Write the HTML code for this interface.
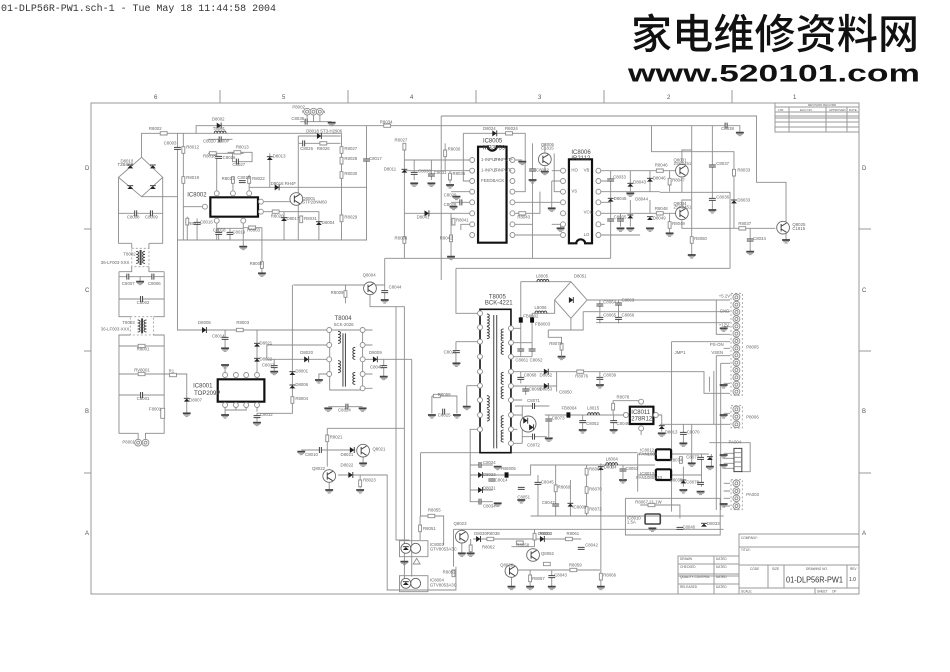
<!DOCTYPE html>
<html><head><meta charset="utf-8">
<style>
html,body{margin:0;padding:0;background:#fff;width:950px;height:672px;overflow:hidden}
svg{display:block}
.w{fill:none;stroke:#8c8c8c;stroke-width:.9px;vector-effect:non-scaling-stroke}
.wf{fill:#fff;stroke:#8c8c8c;stroke-width:.9px;vector-effect:non-scaling-stroke}
.c{fill:none;stroke:#444;stroke-width:1px;vector-effect:non-scaling-stroke}
.cf{fill:#fff;stroke:#666;stroke-width:.9px;vector-effect:non-scaling-stroke}
.k{fill:none;stroke:#111;stroke-width:2.2px;vector-effect:non-scaling-stroke}
.d{fill:none;stroke:#999;stroke-width:.8px;stroke-dasharray:2 2;vector-effect:non-scaling-stroke}
.t{font-family:"Liberation Sans",sans-serif;font-size:13px;fill:#666;transform-box:fill-box;transform-origin:0 0;transform:scaleX(.678)}
.tb{font-size:18px;fill:#444}
.f{fill:none;stroke:#9a9a9a;stroke-width:1px}
.s{font-family:"Liberation Sans",sans-serif;fill:#555}
</style></head><body>
<svg width="950" height="672" viewBox="0 0 950 672" xmlns="http://www.w3.org/2000/svg">
<defs>
<g id="cv"><rect x="-7" y="-3" width="14" height="6" fill="#fff"/><path class="c" d="M-7,-3H7M-7,3H7"/></g>
<g id="ch"><rect x="-2" y="-9" width="4" height="18" fill="#fff"/><path class="c" d="M-2,-9V9M2,-9V9"/></g>
<g id="rv"><rect class="wf" x="-3" y="-10" width="6" height="20"/></g>
<g id="rh"><rect class="wf" x="-7" y="-5" width="14" height="10"/></g>
<g id="dv"><polygon points="-6,5 6,5 0,-4" fill="#222"/><path class="c" d="M-6,-5H6"/></g>
<g id="dh"><polygon points="-4,-9 -4,9 5,0" fill="#222"/><path class="c" d="M5,-9V9"/></g>
<g id="gd"><path class="c" d="M-8,0H8" style="stroke-width:1.8px"/><path class="w" d="M-6,5H6M-3,9H3"/></g>
<g id="pn"><ellipse class="wf" rx="5" ry="7.5"/></g>
<g id="pc"><ellipse class="wf" rx="7" ry="10"/><ellipse class="w" rx="3" ry="4.5"/></g>
<g id="qt"><ellipse class="cf" rx="13" ry="19"/><path class="c" d="M-4,-11V11M-4,-4L7,-14M-4,4L7,14"/></g>
<g id="fb"><rect x="-4" y="-8" width="8" height="16" fill="#111"/></g>
<g id="lh"><path class="c" d="M-12,0a3,7 0 0 1 6,0a3,7 0 0 1 6,0a3,7 0 0 1 6,0a3,7 0 0 1 6,0"/></g>
<g id="lv"><path class="c" d="M0,-18a5,4.5 0 0 1 0,9a5,4.5 0 0 1 0,9a5,4.5 0 0 1 0,9a5,4.5 0 0 1 0,9"/></g>
<g id="lvl"><path class="c" d="M0,-18a5,4.5 0 0 0 0,9a5,4.5 0 0 0 0,9a5,4.5 0 0 0 0,9a5,4.5 0 0 0 0,9"/></g>
</defs>

<!-- header -->
<text x="1" y="11" font-family="Liberation Mono, monospace" font-size="10" fill="#333" textLength="275" lengthAdjust="spacingAndGlyphs">01-DLP56R-PW1.sch-1 - Tue May 18 11:44:58 2004</text>
<text x="631" y="48.5" font-family="Noto Sans CJK SC, Noto Serif CJK SC, sans-serif" font-weight="500" font-size="41" fill="#111" textLength="288" lengthAdjust="spacing">家电维修资料网</text>
<text x="628" y="81.7" font-family="Liberation Sans, sans-serif" font-weight="700" font-size="24" fill="#111" textLength="292" lengthAdjust="spacingAndGlyphs">www.520101.com</text>

<!-- frame -->
<rect class="f" x="91" y="103" width="768" height="491"/>
<path class="f" d="M220,90V103M348,90V103M476,90V103M604,90V103M732,90V103M84,229H91M84,351H91M84,473H91M859,229H871M859,351H871M859,473H871"/>
<g class="s" font-size="6">
<text x="154" y="99">6</text><text x="282" y="99">5</text><text x="410" y="99">4</text><text x="538" y="99">3</text><text x="667" y="99">2</text><text x="793" y="99">1</text>
<text x="862" y="170">D</text><text x="862" y="292">C</text><text x="862" y="413">B</text><text x="862" y="535">A</text>
<text x="85" y="170">D</text><text x="85" y="292">C</text><text x="85" y="413">B</text><text x="85" y="535">A</text>
</g>
<text class="s" x="302" y="113" font-size="3.5">RTN RTN RTN</text>
<!-- revision table -->
<rect class="f" x="775" y="103" width="84" height="29"/>
<path class="f" d="M775,107H859M775,112H859M775,116H859M775,118H859M775,122H859M775,127H859M789,107V132M826,107V132M847,107V132"/>
<g class="s" font-size="3"><text x="808" y="106">REVISION RECORD</text><text x="778" y="111">LTR</text><text x="800" y="111">ECO NO.</text><text x="829" y="111">APPROVED</text><text x="849" y="111">DATE</text></g>
<!-- title block -->
<rect class="f" x="739" y="534" width="120" height="60"/>
<path class="f" d="M739,547H859M739,565H859M739,588H859M768,565V588M784,565V588M847,565V588M815,588V594"/>
<rect class="f" x="678" y="556" width="61" height="38"/>
<path class="f" d="M678,564H739M678,574H739M678,576H739M678,584H739M714,556V594"/>
<g class="s" font-size="3.2">
<text x="741" y="539">COMPANY:</text><text x="741" y="551">TITLE:</text>
<text x="750" y="570">CODE</text><text x="772" y="570">SIZE</text><text x="806" y="570">DRAWING NO.</text><text x="850" y="570">REV</text>
<text x="741" y="592.5">SCALE:</text><text x="817" y="592.5">SHEET</text><text x="832" y="592.5">OF</text>
<text x="680" y="560">DRAWN</text><text x="716" y="560">DATED</text>
<text x="680" y="568">CHECKED</text><text x="716" y="568">DATED</text>
<text x="680" y="578">QUALITY CONTROL</text><text x="716" y="578">DATED</text>
<text x="680" y="588">RELEASED</text><text x="716" y="588">DATED</text>
</g>
<text x="786" y="582.7" font-family="Liberation Sans, sans-serif" font-size="8.5" fill="#333" textLength="57" lengthAdjust="spacingAndGlyphs">01-DLP56R-PW1</text>
<text x="849" y="581" font-family="Liberation Sans, sans-serif" font-size="5" fill="#333">1.0</text>

<!-- schematic (stretched coords) -->
<g transform="translate(90,100) scale(0.4912,0.33333)">
<!-- wires -->
<path class="w" d="M105,172V100H178M178,100V420H563V77M178,100H512M216,100V77H1143M512,100V420M424,108H510M424,130H510M424,108V420M190,100V420M240,160H313M258,160V271M291,230V271M324,225V271M280,157H330V185H290V157M366,160V262M324,262H563M354,305H420M354,335H466V420M395,335V420M239,320H190M258,371V420M312,371V440M312,383H350V520M198,350V420M218,355V420M240,118H290M258,385H312M262,385V420M285,385V420"/>
<path class="w" d="M105,290H178M58,232V430H85M148,232V430H120M58,340H148M85,430V445M120,430V445M85,500V515H59M120,500V515H151M59,515V650H82M151,515V650H129M59,530H151M59,597H151M102,530V545M82,705H59V1000H98V1018M129,705H151V1000H113V1018M59,738H151M59,822H151M59,885H151M151,822H197V940M148,925V955"/>
<path class="w" d="M178,420V690H487M340,690V825M275,690V745M360,735H487M360,735V778H487M375,778V815M412,555V940H340V965M487,822H466V840M275,825V800M275,915V930H318V915M297,915V930M275,930V945M340,915V935M555,690H575M555,735H575M555,778H655M598,778V830M555,822H575M555,865H575M485,920H555M414,555H600V475M520,555V610M570,545V555M570,585V620H640V1440H650M623,620V1320H650M600,555V600M655,778V1430"/>
<path class="w" d="M430,1050H540M483,985V1100M483,985H640M505,1125H605V1470H745V1400M550,1125V1165M556,1072V1090M487,1148V1170M672,1248H720V1335M672,1248V1320M673,1058V1248M673,1058H1115M740,1288H1290M757,1288V1292M757,1330V1360M780,1317H1000M775,1317V1360M858,1340H905M905,1288V1340M858,1392V1460M862,1410H1038M896,1410V1460M940,1410V1460M1040,1090V1460M740,1400V1288"/>
<path class="w" d="M794,988H774V1205H820M774,1095H820M774,1125H897V1095H1150M774,1170H820M912,1125V1248M948,1095V1248M978,1140V1248M1011,1095V1248M897,1248H1290M1120,1215H1201V1255M1090,1195H1283V1305H1090V1195M1062,1095V1105"/>
<path class="w" d="M715,48H1357V247H1417V365M715,48V540M1143,77H1323V95M1143,77V155H1311V385M1160,277H1303V505M745,505H1303M745,505V640H794M640,130V475M640,180H773M640,212H773M760,100V243H773M760,100H886V275H865M640,340H773M660,180V240M695,180V240M723,130V212M733,212V250M735,275H773M735,307H773M735,340V470M773,373H755V390M600,475H1060M1060,212V475M901,130V475M926,130V157M926,199V215M945,160V275H958M865,307H958M865,340H916V275M865,373H901M865,405H958M865,180H880M940,212H958M940,243H958M940,243V325M940,373H958V385"/>
<path class="w" d="M1040,212H1195M1040,275H1160M1040,340H1195M1040,405H1120M1040,243H1060M1040,307H1060M1040,373H1048M1100,212V275M1140,212V275M1140,300V340M1100,300V380M1080,340V380M1180,212V275M1180,340V400M1225,78V465M1267,78V330M1205,191V150H1225M1205,233V277M1205,319V300H1225M1205,361V385H1225M1225,385H1395M1344,385V455M1417,401V420"/>
<path class="w" d="M745,725H794M745,725V790M767,857H794M767,857V920M696,888H747V940M696,888V940M857,685H877M857,728H900M857,770H900M877,545V770M900,640V770M877,545H979M946,600V640H900M1012,600H1303M1004,635H1303M933,690H1004V635M933,690V712H960V750M979,655V690M1038,600V670M1076,600V670M857,815H1250V880H1303M950,815V875M857,858H950M877,815V850M887,858V885M857,900H880M865,918H935M857,945H880M857,988H870M857,1030H880M880,1010H930M880,918V1030M926,945H1086M1065,945V902H1122M1157,945H1164V995M1160,973H1303M1208,973V1030M1003,945V990M1066,945V990M1122,992V1005"/>
<path class="w" d="M1030,668H1303M1275,600V703H1303M1184,725H1303M1184,725V1235M1275,767H1303M1275,767V1230M1284,790H1303M1284,790V1230M1261,830V875M1270,813V973M1115,1062H1152M1115,1062V1175M1115,1125H1152M1183,1062H1260M1183,1125H1245M1225,973V1090M1245,1062V1160M1265,1062V1100M1208,1100V1160M1261,1028H1344V1115H1327M1290,1060H1311M1290,1075H1311M1290,1090H1311M1290,1105H1311M1290,1150H1303M1290,1173H1303M1290,1195H1303M1290,1218H1303M1290,940H1303M1290,680H1303M1290,745H1303M1290,850H1303"/>

<!-- bridges -->
<path class="w" d="M105,172L148,232L105,290L58,232Z"/>
<use href="#dv" x="82" y="200"/><use href="#dv" x="128" y="200"/><use href="#dv" x="82" y="262"/><use href="#dv" x="128" y="262"/>
<path class="w" d="M979,545L1012,600L979,655L946,600Z"/><use href="#dh" x="979" y="600"/>

<!-- ICs -->
<rect class="k" x="245" y="292" width="97" height="58"/>
<use href="#pn" x="258" y="280"/><use href="#pn" x="291" y="280"/><use href="#pn" x="324" y="280"/>
<use href="#pn" x="258" y="362"/><use href="#pn" x="312" y="362"/><use href="#pn" x="234" y="320"/>
<use href="#pn" x="348" y="305"/><use href="#pn" x="348" y="335"/>
<path class="k" d="M790,140H810A9,12 0 0 0 828,140H848V428H790Z"/>
<path class="k" d="M975,178H1022V430H1008A9,12 0 0 0 990,430H975Z"/>
<rect class="k" x="260" y="838" width="95" height="67"/>
<rect class="k" x="1099" y="920" width="48" height="52"/>
<rect class="k" x="1152" y="1048" width="31" height="32" rx="3"/>
<rect class="k" x="1152" y="1108" width="31" height="32" rx="3"/>
<rect class="c" x="1130" y="1242" width="31" height="30" rx="3" style="stroke-width:1.6px"/>
<rect class="k" x="794" y="628" width="63" height="430" style="stroke-width:1.6px"/>
<rect class="w" x="488" y="690" width="67" height="180"/>
<rect class="d" x="85" y="445" width="35" height="55"/><rect class="d" x="82" y="650" width="47" height="55"/>
<path class="c" d="M102,450V495M104,450V495M105,655V700M107,655V700M822,645V1045M828,645V1045M515,700V860M520,700V860"/>
<use href="#lv" x="94" y="472"/><use href="#lvl" x="112" y="472"/><use href="#lv" x="97" y="678"/><use href="#lvl" x="115" y="678"/>
<use href="#lv" x="505" y="712"/><use href="#lv" x="505" y="800"/><use href="#lvl" x="540" y="760"/><use href="#lvl" x="540" y="835"/>
<use href="#lv" x="808" y="660"/><use href="#lv" x="808" y="698"/><use href="#lv" x="808" y="905"/><use href="#lv" x="808" y="945"/>
<use href="#lvl" x="842" y="705"/><use href="#lvl" x="842" y="745"/><use href="#lvl" x="842" y="835"/><use href="#lvl" x="842" y="878"/><use href="#lvl" x="842" y="965"/><use href="#lvl" x="842" y="1008"/>

<!-- IC pins -->
<g>
<use href="#pn" x="778" y="180"/><use href="#pn" x="778" y="212"/><use href="#pn" x="778" y="243"/><use href="#pn" x="778" y="275"/><use href="#pn" x="778" y="307"/><use href="#pn" x="778" y="340"/><use href="#pn" x="778" y="373"/><use href="#pn" x="778" y="405"/>
<use href="#pn" x="860" y="180"/><use href="#pn" x="860" y="212"/><use href="#pn" x="860" y="243"/><use href="#pn" x="860" y="275"/><use href="#pn" x="860" y="307"/><use href="#pn" x="860" y="340"/><use href="#pn" x="860" y="373"/><use href="#pn" x="860" y="405"/>
<use href="#pn" x="963" y="212"/><use href="#pn" x="963" y="243"/><use href="#pn" x="963" y="275"/><use href="#pn" x="963" y="307"/><use href="#pn" x="963" y="340"/><use href="#pn" x="963" y="373"/><use href="#pn" x="963" y="405"/>
<use href="#pn" x="1035" y="212"/><use href="#pn" x="1035" y="243"/><use href="#pn" x="1035" y="275"/><use href="#pn" x="1035" y="307"/><use href="#pn" x="1035" y="340"/><use href="#pn" x="1035" y="373"/><use href="#pn" x="1035" y="405"/>
<use href="#pn" x="275" y="825"/><use href="#pn" x="297" y="825"/><use href="#pn" x="318" y="825"/><use href="#pn" x="340" y="825"/>
<use href="#pn" x="275" y="915"/><use href="#pn" x="297" y="915"/><use href="#pn" x="318" y="915"/><use href="#pn" x="340" y="915"/>
<use href="#pn" x="487" y="690"/><use href="#pn" x="487" y="735"/><use href="#pn" x="487" y="778"/><use href="#pn" x="487" y="822"/>
<use href="#pn" x="555" y="690"/><use href="#pn" x="555" y="735"/><use href="#pn" x="555" y="778"/><use href="#pn" x="555" y="822"/><use href="#pn" x="555" y="865"/>
<use href="#pn" x="794" y="640"/><use href="#pn" x="794" y="682"/><use href="#pn" x="794" y="725"/><use href="#pn" x="794" y="770"/><use href="#pn" x="794" y="815"/><use href="#pn" x="794" y="857"/><use href="#pn" x="794" y="900"/><use href="#pn" x="794" y="945"/><use href="#pn" x="794" y="988"/>
<use href="#pn" x="857" y="685"/><use href="#pn" x="857" y="728"/><use href="#pn" x="857" y="770"/><use href="#pn" x="857" y="815"/><use href="#pn" x="857" y="858"/><use href="#pn" x="857" y="900"/><use href="#pn" x="857" y="945"/><use href="#pn" x="857" y="988"/><use href="#pn" x="857" y="1030"/>
<use href="#pn" x="1091" y="945"/><use href="#pn" x="1152" y="945"/><use href="#pn" x="1122" y="905"/><use href="#pn" x="1122" y="985"/>
</g>

<!-- connectors -->
<rect class="d" x="1305" y="580" width="23" height="306"/>
<use href="#pc" x="1316" y="592"/><use href="#pc" x="1316" y="614"/><use href="#pc" x="1316" y="636"/><use href="#pc" x="1316" y="657"/><use href="#pc" x="1316" y="679"/><use href="#pc" x="1316" y="701"/><use href="#pc" x="1316" y="723"/><use href="#pc" x="1316" y="745"/><use href="#pc" x="1316" y="766"/><use href="#pc" x="1316" y="788"/><use href="#pc" x="1316" y="810"/><use href="#pc" x="1316" y="832"/><use href="#pc" x="1316" y="854"/><use href="#pc" x="1316" y="875"/>
<rect class="d" x="1305" y="917" width="23" height="67"/>
<use href="#pc" x="1316" y="928"/><use href="#pc" x="1316" y="950"/><use href="#pc" x="1316" y="973"/>
<rect class="c" x="1311" y="1045" width="16" height="70"/>
<path class="w" d="M1311,1058H1327M1311,1072H1327M1311,1086H1327M1311,1100H1327"/>
<rect class="d" x="1305" y="1139" width="23" height="90"/>
<use href="#pc" x="1316" y="1150"/><use href="#pc" x="1316" y="1173"/><use href="#pc" x="1316" y="1195"/><use href="#pc" x="1316" y="1218"/>
<path class="w" d="M442,44V65M455,44V65M468,44V65M428,65H492"/>
<use href="#pc" x="442" y="35"/><use href="#pc" x="455" y="35"/><use href="#pc" x="468" y="35"/>
<path class="w" d="M98,1018V1020M113,1018V1020"/>
<use href="#pc" x="98" y="1028"/><use href="#pc" x="113" y="1028"/>

<!-- optos -->
<rect class="w" x="630" y="1322" width="58" height="48"/><rect class="w" x="630" y="1427" width="58" height="48"/>
<ellipse class="cf" cx="643" cy="1345" rx="10" ry="15"/><ellipse class="cf" cx="663" cy="1345" rx="10" ry="15"/>
<ellipse class="cf" cx="643" cy="1450" rx="10" ry="15"/><ellipse class="cf" cx="663" cy="1450" rx="10" ry="15"/>
<use href="#dv" x="643" y="1345"/><use href="#dv" x="643" y="1450"/>
<path class="w" d="M665,1375L672,1392H658Z"/>

<!-- transistors -->
<use href="#qt" x="420" y="297"/><use href="#qt" x="570" y="565"/><use href="#qt" x="556" y="1052"/><use href="#qt" x="487" y="1128"/>
<use href="#qt" x="926" y="178"/><use href="#qt" x="1205" y="212"/><use href="#qt" x="1205" y="340"/><use href="#qt" x="1411" y="383"/>
<use href="#qt" x="757" y="1310"/><use href="#qt" x="858" y="1413"/><use href="#qt" x="902" y="1365"/>
<ellipse class="cf" cx="892" cy="972" rx="16" ry="24"/><use href="#dh" x="886" y="962"/><use href="#dh" x="898" y="982"/>

<!-- passive components -->
<g>
<use href="#rh" x="150" y="100"/><use href="#cv" x="178" y="145"/><use href="#dh" x="262" y="77"/><use href="#lh" x="265" y="100"/><use href="#ch" x="265" y="118"/>
<use href="#rv" x="190" y="150"/><use href="#rv" x="190" y="240"/><use href="#rh" x="250" y="160"/><use href="#cv" x="262" y="172"/><use href="#rh" x="300" y="157"/><use href="#ch" x="300" y="185"/>
<use href="#dv" x="366" y="175"/><use href="#rv" x="291" y="240"/><use href="#cv" x="310" y="245"/><use href="#rv" x="324" y="240"/><use href="#dh" x="380" y="262"/>
<use href="#dh" x="466" y="108"/><use href="#ch" x="435" y="130"/><use href="#rh" x="475" y="130"/>
<use href="#rv" x="512" y="150"/><use href="#rv" x="512" y="182"/><use href="#rv" x="512" y="225"/><use href="#rv" x="512" y="355"/><use href="#cv" x="563" y="180"/>
<use href="#rh" x="378" y="335"/><use href="#dv" x="395" y="358"/><use href="#rv" x="430" y="358"/><use href="#dv" x="466" y="370"/>
<use href="#rv" x="198" y="365"/><use href="#cv" x="218" y="370"/><use href="#cv" x="262" y="400"/><use href="#cv" x="285" y="400"/><use href="#gd" x="312" y="440"/>
<use href="#rh" x="330" y="383"/><use href="#rv" x="350" y="495"/><use href="#gd" x="350" y="520"/><use href="#rh" x="605" y="77"/>
<use href="#ch" x="440" y="65"/><use href="#gd" x="492" y="68"/>
<use href="#ch" x="93" y="340"/><use href="#ch" x="125" y="340"/>
<use href="#ch" x="77" y="530"/><use href="#ch" x="128" y="530"/><use href="#gd" x="102" y="545"/><use href="#ch" x="105" y="597"/>
<use href="#rh" x="105" y="738"/><use href="#rh" x="105" y="822"/><use href="#ch" x="105" y="885"/><rect class="wf" x="144" y="925" width="8" height="30"/>
<use href="#rh" x="169" y="825"/><use href="#dv" x="197" y="900"/><use href="#gd" x="197" y="940"/>
<use href="#dh" x="232" y="690"/><use href="#rh" x="305" y="690"/><use href="#cv" x="275" y="715"/><use href="#gd" x="275" y="745"/>
<use href="#dv" x="340" y="735"/><use href="#dv" x="340" y="780"/><use href="#cv" x="375" y="800"/><use href="#gd" x="375" y="815"/><use href="#dh" x="440" y="778"/>
<use href="#dv" x="412" y="820"/><use href="#dv" x="412" y="860"/><use href="#rv" x="412" y="900"/><use href="#cv" x="340" y="950"/><use href="#gd" x="340" y="968"/>
<use href="#gd" x="275" y="795"/><use href="#gd" x="275" y="945"/><use href="#gd" x="466" y="840"/>
<use href="#dh" x="580" y="778"/><use href="#cv" x="598" y="800"/><use href="#gd" x="598" y="830"/>
<use href="#ch" x="523" y="920"/><use href="#gd" x="485" y="925"/><use href="#gd" x="555" y="925"/>
<use href="#rv" x="520" y="582"/><use href="#cv" x="600" y="575"/><use href="#gd" x="600" y="600"/>
<use href="#ch" x="469" y="1050"/><use href="#gd" x="430" y="1055"/><use href="#dh" x="533" y="1050"/><use href="#gd" x="556" y="1090"/>
<use href="#rv" x="483" y="1015"/><use href="#gd" x="487" y="1170"/><use href="#dh" x="530" y="1125"/><use href="#rv" x="550" y="1150"/><use href="#gd" x="550" y="1170"/>
<use href="#gd" x="640" y="1385"/><use href="#rh" x="695" y="1248"/><use href="#rv" x="672" y="1285"/><use href="#rv" x="740" y="1420"/>
<use href="#rv" x="775" y="1345"/><use href="#dh" x="790" y="1317"/><use href="#rh" x="815" y="1317"/><use href="#dh" x="920" y="1317"/><use href="#rh" x="975" y="1317"/>
<use href="#cv" x="1000" y="1345"/><use href="#rh" x="875" y="1328"/><use href="#rv" x="905" y="1310"/><use href="#rh" x="930" y="1392"/>
<use href="#rv" x="896" y="1435"/><use href="#cv" x="940" y="1430"/><use href="#rh" x="984" y="1410"/><use href="#rv" x="1040" y="1430"/>
<use href="#gd" x="896" y="1460"/><use href="#gd" x="940" y="1460"/><use href="#gd" x="1040" y="1460"/><use href="#gd" x="858" y="1460"/><use href="#gd" x="757" y="1360"/><use href="#gd" x="775" y="1360"/>
<use href="#ch" x="794" y="1095"/><use href="#dh" x="794" y="1125"/><use href="#dh" x="794" y="1170"/><use href="#ch" x="794" y="1205"/><use href="#fb" x="848" y="1125"/><use href="#cv" x="818" y="1140"/>
<use href="#gd" x="830" y="1100"/><use href="#gd" x="830" y="1210"/>
<use href="#cv" x="878" y="1165"/><use href="#gd" x="878" y="1200"/><use href="#cv" x="912" y="1150"/><use href="#rv" x="948" y="1165"/><use href="#cv" x="948" y="1215"/><use href="#dv" x="978" y="1215"/>
<use href="#rv" x="1011" y="1115"/><use href="#rv" x="1011" y="1170"/><use href="#rv" x="1011" y="1230"/><use href="#dv" x="1040" y="1105"/><use href="#cv" x="1085" y="1110"/><use href="#gd" x="1085" y="1140"/>
<path class="w" d="M1085,1095V1140"/>
<use href="#lh" x="1062" y="1095"/>
<use href="#cv" x="1201" y="1285"/><use href="#dv" x="1250" y="1275"/><use href="#rh" x="1143" y="1215"/><use href="#gd" x="1145" y="1285"/>
<use href="#cv" x="746" y="755"/><use href="#gd" x="746" y="790"/><use href="#gd" x="767" y="920"/><use href="#rh" x="706" y="888"/><use href="#ch" x="720" y="935"/><use href="#gd" x="696" y="945"/><use href="#gd" x="747" y="945"/>
<use href="#fb" x="877" y="660"/><use href="#fb" x="900" y="660"/><use href="#cv" x="877" y="750"/><use href="#cv" x="900" y="750"/>
<use href="#lh" x="922" y="545"/><use href="#lh" x="918" y="640"/>
<use href="#cv" x="1038" y="615"/><use href="#cv" x="1076" y="612"/><use href="#cv" x="1038" y="655"/><use href="#cv" x="1076" y="655"/>
<use href="#rv" x="960" y="740"/><use href="#gd" x="960" y="770"/><path class="w" d="M960,750V770"/>
<use href="#dh" x="928" y="815"/><use href="#rh" x="998" y="815"/><use href="#cv" x="1038" y="835"/><use href="#gd" x="1038" y="855"/><path class="w" d="M1038,815V855"/>
<use href="#dh" x="928" y="858"/><use href="#cv" x="877" y="835"/><use href="#cv" x="887" y="870"/>
<use href="#ch" x="903" y="918"/><use href="#cv" x="934" y="960"/><use href="#ch" x="903" y="1010"/><use href="#gd" x="934" y="1015"/><path class="w" d="M934,945V1015"/>
<use href="#fb" x="974" y="945"/><use href="#lh" x="1025" y="945"/>
<use href="#cv" x="1003" y="965"/><use href="#gd" x="1003" y="990"/><use href="#cv" x="1066" y="965"/><use href="#gd" x="1066" y="990"/>
<use href="#rv" x="1065" y="920"/><use href="#dv" x="1164" y="982"/><use href="#gd" x="1164" y="1000"/><use href="#cv" x="1208" y="1000"/><use href="#gd" x="1208" y="1030"/>
<use href="#cv" x="1243" y="1075"/><use href="#dv" x="1262" y="1075"/><use href="#cv" x="1243" y="1150"/><use href="#dv" x="1208" y="1145"/><use href="#rv" x="1203" y="1080"/>
<use href="#gd" x="1208" y="1170"/><use href="#gd" x="1243" y="1175"/><use href="#gd" x="1262" y="1100"/><use href="#gd" x="1225" y="1090"/>
<use href="#gd" x="1290" y="1065"/><use href="#gd" x="1290" y="1095"/><use href="#gd" x="1290" y="1212"/><use href="#gd" x="1290" y="945"/><use href="#gd" x="1290" y="685"/><use href="#gd" x="1290" y="855"/>
<use href="#rv" x="640" y="140"/><use href="#rv" x="640" y="420"/><use href="#dv" x="640" y="213"/><use href="#cv" x="660" y="220"/><use href="#cv" x="695" y="225"/><use href="#rv" x="723" y="160"/><use href="#rv" x="733" y="230"/>
<use href="#gd" x="660" y="250"/><use href="#gd" x="695" y="250"/><use href="#gd" x="733" y="255"/>
<use href="#dh" x="685" y="340"/><use href="#rv" x="740" y="365"/><use href="#rv" x="735" y="415"/><use href="#gd" x="735" y="470"/>
<use href="#gd" x="746" y="290"/><use href="#ch" x="755" y="307"/><use href="#gd" x="740" y="320"/>
<use href="#dh" x="823" y="100"/><use href="#rh" x="853" y="100"/><use href="#gd" x="880" y="185"/><use href="#rh" x="880" y="340"/>
<use href="#cv" x="901" y="210"/><use href="#gd" x="901" y="240"/><use href="#gd" x="926" y="215"/><use href="#gd" x="940" y="325"/><use href="#gd" x="958" y="385"/>
<use href="#cv" x="1060" y="240"/><use href="#dv" x="1060" y="300"/><use href="#cv" x="1060" y="360"/><use href="#cv" x="1080" y="360"/><use href="#dv" x="1100" y="255"/><use href="#dv" x="1140" y="240"/>
<use href="#rh" x="1160" y="212"/><use href="#rh" x="1160" y="340"/><use href="#dv" x="1140" y="355"/><use href="#dv" x="1100" y="350"/><use href="#rv" x="1180" y="245"/><use href="#rv" x="1180" y="375"/>
<use href="#gd" x="1080" y="385"/><use href="#gd" x="1100" y="385"/><use href="#gd" x="1180" y="400"/><use href="#gd" x="1140" y="385"/><use href="#gd" x="1100" y="280"/>
<use href="#rv" x="1225" y="420"/><use href="#gd" x="1225" y="465"/><use href="#cv" x="1267" y="198"/><use href="#cv" x="1267" y="298"/><use href="#gd" x="1267" y="330"/>
<use href="#ch" x="1295" y="77"/><use href="#gd" x="1323" y="98"/><use href="#rv" x="1311" y="218"/><use href="#dv" x="1311" y="305"/><use href="#rh" x="1328" y="385"/>
<use href="#cv" x="1344" y="420"/><use href="#gd" x="1344" y="455"/><use href="#gd" x="1417" y="420"/>
</g>

<!-- labels -->
<g>
<text class="t" x="62" y="188">D8010</text><text class="t" x="56" y="198">T2B8K8</text>
<text class="t" x="120" y="90">R8002</text><text class="t" x="150" y="133">C8003</text><text class="t" x="248" y="62">D8002</text><text class="t" x="250" y="90">T8001</text><text class="t" x="230" y="128">C8020 1000P</text>
<text class="t" x="196" y="145">R8012</text><text class="t" x="196" y="237">R8019</text><text class="t" x="230" y="173">R8018</text><text class="t" x="270" y="177">C8025</text><text class="t" x="297" y="145">R8013</text><text class="t" x="290" y="198">C8027</text>
<text class="t" x="372" y="172">D8013</text><text class="t" x="268" y="240">R8021</text><text class="t" x="300" y="237">C8015</text><text class="t" x="330" y="240">R8022</text>
<text class="t" x="368" y="255">D8016 RH4F</text><text class="t" x="432" y="300">Q8001</text><text class="t" x="432" y="310">STP20NM60</text>
<text class="t" x="440" y="98">D8018 ST3-H2906</text><text class="t" x="428" y="150">C8026</text><text class="t" x="462" y="150">R8026</text>
<text class="t" x="518" y="150">R8027</text><text class="t" x="518" y="180">R8028</text><text class="t" x="518" y="225">R8030</text><text class="t" x="518" y="355">R8029</text><text class="t" x="568" y="180">C8017</text>
<text class="t" x="368" y="352">R8020</text><text class="t" x="400" y="360">D8017</text><text class="t" x="436" y="360">R8031</text><text class="t" x="472" y="372">D8004</text>
<text class="t" x="200" y="375">R8022</text><text class="t" x="224" y="370">C8016</text><text class="t" x="250" y="395">C8018</text><text class="t" x="290" y="400">C8019</text><text class="t" x="320" y="395">R8003</text><text class="t" x="325" y="495">R8008</text>
<text class="t tb" x="198" y="290">IC8002</text>
<text class="t" x="412" y="25">P8002</text><text class="t" x="410" y="60">C8036</text><text class="t" x="590" y="70">R8034</text>
<text class="t" x="75" y="355">C8008</text><text class="t" x="112" y="355">C8009</text>
<text class="t" x="68" y="466">T8002</text><text class="t" x="22" y="492">36-LF003-XXX</text>
<text class="t" x="65" y="555">C8007</text><text class="t" x="118" y="555">C8006</text><text class="t" x="95" y="612">C8002</text>
<text class="t" x="66" y="672">T8003</text><text class="t" x="22" y="692">36-LF003-XXX</text>
<text class="t" x="95" y="752">R8001</text><text class="t" x="90" y="815">RV8001</text><text class="t" x="95" y="900">C8001</text><text class="t" x="120" y="932">F8001</text><text class="t" x="66" y="1030">P8001</text>
<text class="t" x="160" y="818">R1</text><text class="t" x="202" y="905">D8007</text>
<text class="t" x="220" y="672">D8005</text><text class="t" x="298" y="672">R8003</text><text class="t" x="248" y="712">C8014</text><text class="t" x="345" y="733">D8021</text><text class="t" x="345" y="782">D8022</text>
<text class="t tb" x="210" y="862">IC8001</text><text class="t tb" x="212" y="885">TOP209P</text>
<text class="t tb" x="498" y="660">T8004</text><text class="t" x="496" y="678">SCK-2026</text>
<text class="t" x="428" y="762">D8020</text><text class="t" x="568" y="762">D8009</text><text class="t" x="570" y="805">C8040</text><text class="t" x="350" y="800">C8013</text>
<text class="t" x="418" y="818">D8001</text><text class="t" x="418" y="858">D8006</text><text class="t" x="418" y="900">R8004</text><text class="t" x="346" y="948">C8012</text>
<text class="t" x="555" y="530">Q8004</text><text class="t" x="490" y="582">R8009</text><text class="t" x="608" y="565">C8044</text><text class="t" x="505" y="935">C8024</text>
<text class="t" x="488" y="1015">R8021</text><text class="t" x="438" y="1068">C8010</text><text class="t" x="510" y="1068">D8021</text><text class="t" x="575" y="1052">Q8021</text>
<text class="t" x="452" y="1110">Q8022</text><text class="t" x="510" y="1100">D8022</text><text class="t" x="556" y="1145">R8023</text>
<text class="t" x="692" y="1338">IC8003</text><text class="t" x="692" y="1352">GTV8053A3C</text><text class="t" x="692" y="1445">IC8004</text><text class="t" x="692" y="1459">GTV8053A3C</text>
<text class="t" x="688" y="1235">R8055</text><text class="t" x="678" y="1290">R8051</text><text class="t" x="718" y="1420">R8052</text>
<text class="t tb" x="800" y="128">IC8005</text><text class="t tb" x="800" y="148">MB3759</text>
<text class="t tb" x="980" y="162">IC8006</text><text class="t tb" x="980" y="180">IR2112</text>
<text class="t" x="918" y="138">Q8006</text><text class="t" x="918" y="148">C1815</text>
<text class="t" x="800" y="90">D8024</text><text class="t" x="845" y="90">R8024</text><text class="t" x="620" y="125">R8027</text>
<text class="t" x="598" y="212">D8011</text><text class="t" x="668" y="218">C8030</text><text class="t" x="700" y="222">C8031</text><text class="t" x="728" y="152">R8030</text><text class="t" x="738" y="225">R8035</text>
<text class="t" x="665" y="355">D8041</text><text class="t" x="745" y="365">R8041</text><text class="t" x="712" y="418">R8042</text><text class="t" x="620" y="418">R8036</text><text class="t" x="870" y="355">R8043</text>
<text class="t" x="720" y="290">C8029</text><text class="t" x="720" y="318">C8028</text><text class="t" x="908" y="215">C8032</text>
<text class="t" x="1065" y="235">C8033</text><text class="t" x="1106" y="250">D8043</text><text class="t" x="1146" y="238">D8046</text><text class="t" x="1066" y="300">D8045</text><text class="t" x="1066" y="355">C8035</text>
<text class="t" x="1150" y="200">R8046</text><text class="t" x="1150" y="330">R8048</text><text class="t" x="1185" y="245">R8047</text><text class="t" x="1185" y="375">R8049</text><text class="t" x="1110" y="302">D8044</text><text class="t" x="1146" y="358">D8049</text>
<text class="t" x="1188" y="185">Q8031</text><text class="t" x="1188" y="195">2SK2451</text><text class="t" x="1188" y="315">Q8034</text><text class="t" x="1188" y="325">2SK2451</text>
<text class="t" x="1275" y="195">C8037</text><text class="t" x="1275" y="295">C8036</text><text class="t" x="1285" y="90">C8038</text><text class="t" x="1230" y="420">R8050</text>
<text class="t" x="1318" y="215">R8033</text><text class="t" x="1318" y="305">D8033</text><text class="t" x="1320" y="375">R8037</text><text class="t" x="1350" y="420">C8034</text><text class="t" x="1430" y="378">Q8025</text><text class="t" x="1430" y="390">C1815</text>
<text class="t tb" x="812" y="595">T8005</text><text class="t tb" x="804" y="614">BCK-4221</text>
<text class="t" x="908" y="533">L8005</text><text class="t" x="985" y="533">D8051</text><text class="t" x="905" y="627">L8006</text>
<text class="t" x="882" y="652">FB8002</text><text class="t" x="906" y="676">FB8003</text><text class="t" x="866" y="785">C8061</text><text class="t" x="895" y="785">C8062</text>
<text class="t" x="935" y="735">R8073</text><text class="t" x="1045" y="610">C8064</text><text class="t" x="1082" y="605">C8063</text><text class="t" x="1045" y="650">C8065</text><text class="t" x="1082" y="650">C8066</text>
<text class="t" x="915" y="830">D8052</text><text class="t" x="915" y="872">D8053</text><text class="t" x="988" y="832">R8076</text><text class="t" x="1045" y="830">C8039</text>
<text class="t" x="883" y="830">C8068</text><text class="t" x="893" y="872">C8069</text><text class="t" x="955" y="880">C8050</text><text class="t" x="890" y="906">C8071</text><text class="t" x="940" y="958">C8073</text><text class="t" x="890" y="1040">C8072</text>
<text class="t" x="960" y="928">FB8004</text><text class="t" x="1012" y="928">L8015</text><text class="t" x="1010" y="975">C8052</text><text class="t" x="1072" y="975">C8048</text><text class="t" x="1072" y="895">R8078</text>
<text class="t tb" x="1102" y="942">IC8011</text><text class="t tb" x="1102" y="962">278R12</text>
<text class="t" x="1170" y="1000">D8013</text><text class="t" x="1215" y="1000">C8070</text>
<text class="t" x="1336" y="745">P8005</text><text class="t" x="1336" y="955">P8006</text><text class="t" x="1300" y="1030">PA004</text><text class="t" x="1336" y="1188">PA003</text>
<text class="t" x="1280" y="592">+5.2V</text><text class="t" x="1282" y="638">GND</text><text class="t" x="1280" y="680">+12V</text><text class="t" x="1262" y="738">PS-ON</text><text class="t" x="1265" y="762">VSEN</text>
<text class="t" x="1120" y="1055">IC8012</text><text class="t" x="1118" y="1067">FAN1084</text><text class="t" x="1120" y="1125">IC8013</text><text class="t" x="1112" y="1137">FAN1085V33</text>
<text class="t" x="1093" y="1258">IC8010</text><text class="t" x="1093" y="1270">1.5A</text><text class="t" x="1110" y="1210">R8067 21 1W</text><text class="t" x="1206" y="1285">C8040</text><text class="t" x="1256" y="1275">D8033</text>
<text class="t" x="1050" y="1082">L8004</text><text class="t" x="1046" y="1105">D8034</text><text class="t" x="1090" y="1110">C8053</text>
<text class="t" x="1214" y="1075">C8077</text><text class="t" x="1214" y="1150">C8078</text><text class="t" x="1180" y="1145">D8035</text><text class="t" x="1180" y="1085">R8074</text>
<text class="t" x="952" y="1165">R8069</text><text class="t" x="918" y="1150">C8045</text><text class="t" x="870" y="1195">C8051</text><text class="t" x="920" y="1212">C8047</text><text class="t" x="982" y="1225">IC8009</text>
<text class="t" x="1016" y="1112">R8060</text><text class="t" x="1016" y="1172">R8070</text><text class="t" x="1016" y="1232">R8072</text>
<text class="t" x="800" y="1092">C8024</text><text class="t" x="800" y="1128">D8023</text><text class="t" x="800" y="1168">D8031</text><text class="t" x="800" y="1222">C8034</text><text class="t" x="836" y="1110">FB8005</text><text class="t" x="824" y="1145">C8014</text>
<text class="t" x="740" y="1275">Q8023</text><text class="t" x="798" y="1345">R8062</text><text class="t" x="782" y="1305">D8030</text><text class="t" x="808" y="1305">R8038</text><text class="t" x="912" y="1305">D8032</text><text class="t" x="970" y="1305">R8061</text>
<text class="t" x="868" y="1340">R8058</text><text class="t" x="915" y="1305">R8063</text><text class="t" x="918" y="1365">Q8062</text><text class="t" x="835" y="1400">Q8020</text><text class="t" x="1008" y="1340">C8042</text>
<text class="t" x="900" y="1440">R8057</text><text class="t" x="945" y="1430">C8043</text><text class="t" x="975" y="1400">R8059</text><text class="t" x="1045" y="1430">R8066</text>
<text class="t" x="708" y="888">R8059</text><text class="t" x="708" y="950">C8025</text><text class="t" x="720" y="760">C8026</text>
<text class="t" x="1190" y="762">JMP1</text>
<text class="t" x="796" y="183">1-INPUT+</text><text class="t" x="796" y="215">1-INPUT-</text><text class="t" x="796" y="246">FEEDBACK</text><text class="t" x="822" y="183">2-INPUT+</text><text class="t" x="822" y="215">2-INPUT-</text>
<text class="t" x="980" y="215">HO</text><text class="t" x="980" y="278">VS</text><text class="t" x="1005" y="215">VB</text><text class="t" x="1005" y="340">VCC</text><text class="t" x="1005" y="408">LO</text>
</g>
</g>
</svg>
</body></html>
